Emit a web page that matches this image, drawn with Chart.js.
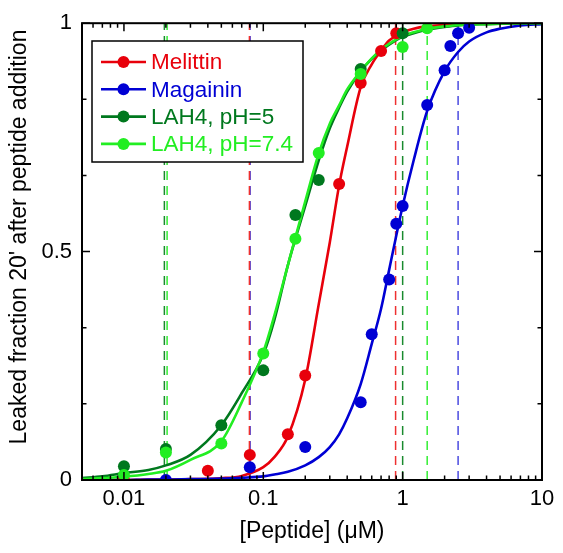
<!DOCTYPE html>
<html>
<head>
<meta charset="utf-8">
<script src="https://cdn.jsdelivr.net/npm/chart.js@4/dist/chart.umd.min.js"></script>
<style>
  html, body { margin: 0; padding: 0; background: #fff; }
</style>
</head>
<body>
<canvas id="myChart" width="563" height="553"></canvas>
<script>
// series
const seriesNames = ["Melittin", "Magainin", "LAH4, pH=5", "LAH4, pH=7.4"];
const seriesColors = ["#e8000b", "#0000d4", "#00781e", "#22ee22"];
const markerColors = seriesColors;
const dashColors = ["#ee3030", "#4a4ae0", "#1a8a2e", "#33ee33"];
const yTitle = "Leaked fraction 20' after peptide addition";
const xTitle = "[Peptide] (\u03BCM)";

// measured points
const melittinConc = [0.01, 0.04, 0.08, 0.15, 0.2, 0.35, 0.5, 0.7, 0.9];
const melittinLeak = [0.0, 0.02, 0.055, 0.10, 0.229, 0.648, 0.869, 0.939, 0.978];
const magaininConc = [0.02, 0.08, 0.2, 0.5, 0.6, 0.8, 0.9, 1.0, 1.5, 2.0, 2.2, 2.5, 3.0];
const magaininLeak = [0.0, 0.028, 0.072, 0.17, 0.319, 0.439, 0.561, 0.60, 0.821, 0.897, 0.95, 0.978, 0.99];
const lah5Conc = [0.01, 0.02, 0.05, 0.1, 0.17, 0.25, 0.5, 1.0];
const lah5Leak = [0.03, 0.068, 0.12, 0.24, 0.58, 0.657, 0.90, 0.978];
const lah74Conc = [0.01, 0.02, 0.05, 0.1, 0.17, 0.25, 0.5, 1.0, 1.5];
const lah74Leak = [0.011, 0.06, 0.08, 0.277, 0.528, 0.716, 0.889, 0.948, 0.989];

// fitted curves
const fitConc = [0.005, 0.007, 0.01, 0.015, 0.02, 0.03, 0.05, 0.07, 0.1, 0.12, 0.15, 0.2, 0.25, 0.3, 0.35,
                 0.4, 0.5, 0.6, 0.7, 0.8, 1.0, 1.2, 1.5, 2.0, 2.5, 3.0, 4.0, 5.0, 7.0, 10.0];
const melittinFit = [0, 0, 0, 0.001, 0.001, 0.002, 0.004, 0.009, 0.028, 0.05, 0.095, 0.22, 0.385, 0.52, 0.645,
                     0.73, 0.86, 0.91, 0.94, 0.962, 0.98, 0.988, 0.993, 0.996, 0.998, 0.999, 1, 1, 1, 1];
const magaininFit = [0, 0, 0, 0.001, 0.001, 0.002, 0.003, 0.005, 0.008, 0.012, 0.018, 0.032, 0.05, 0.072, 0.1,
                     0.135, 0.21, 0.298, 0.375, 0.46, 0.6, 0.7, 0.808, 0.895, 0.937, 0.96, 0.98, 0.988, 0.995, 0.998];
const lah5Fit = [0.004, 0.008, 0.015, 0.022, 0.032, 0.055, 0.12, 0.19, 0.275, 0.35, 0.47, 0.6, 0.7, 0.77, 0.815,
                 0.85, 0.895, 0.922, 0.94, 0.953, 0.97, 0.978, 0.986, 0.992, 0.995, 0.997, 0.998, 0.999, 1, 1];
const lah74Fit = [0.002, 0.004, 0.007, 0.013, 0.02, 0.044, 0.085, 0.17, 0.28, 0.36, 0.47, 0.61, 0.715, 0.78, 0.82,
                  0.855, 0.895, 0.923, 0.942, 0.955, 0.972, 0.98, 0.988, 0.993, 0.996, 0.997, 0.998, 0.999, 1, 1];

// dashed threshold lines (concentration), per series
const lowLines = [0.0795, 0.0805, 0.0195, 0.0204];
const highLines = [0.89, 2.5, 1.0, 1.5];

// axes
const xTickValues = [0.01, 0.1, 1, 10];
const xTickLabels = ["0.01", "0.1", "1", "10"];
const yTickValues = [0, 0.5, 1];
const yTickLabels = ["0", "0.5", "1"];
const yMinorTicks = [1 / 6, 2 / 6, 4 / 6, 5 / 6];

const FONT = "'Liberation Sans', Arial, sans-serif";
const pts = (xs, ys) => xs.map((v, i) => ({ x: v, y: ys[i] }));

const pointSets = [pts(melittinConc, melittinLeak), pts(magaininConc, magaininLeak),
                   pts(lah5Conc, lah5Leak), pts(lah74Conc, lah74Leak)];
const fitSets = [pts(fitConc, melittinFit), pts(fitConc, magaininFit),
                 pts(fitConc, lah5Fit), pts(fitConc, lah74Fit)];
const pointOrder = [3, 2, 1, 0];
const fitOrder = [13, 12, 11, 10];

const datasets = [];
seriesNames.forEach((name, i) => {
  datasets.push({
    label: name,
    data: pointSets[i],
    showLine: false,
    pointRadius: 6,
    pointHoverRadius: 6,
    pointBackgroundColor: markerColors[i],
    pointBorderWidth: 0,
    order: pointOrder[i]
  });
  datasets.push({
    label: name + " fit",
    data: fitSets[i],
    showLine: true,
    borderColor: seriesColors[i],
    borderWidth: 2.6,
    pointRadius: 0,
    cubicInterpolationMode: "monotone",
    order: fitOrder[i]
  });
  [lowLines[i], highLines[i]].forEach(v => {
    datasets.push({
      label: name + " limit",
      data: [{ x: v, y: 0 }, { x: v, y: 1 }],
      showLine: true,
      borderColor: dashColors[i],
      borderWidth: 1.5,
      borderDash: [9, 6],
      pointRadius: 0,
      order: 20 + i
    });
  });
});

// inward ticks and the frame round the plot
const frameTicks = {
  id: "frameTicks",
  afterDatasetsDraw(chart) {
    const { ctx, chartArea: a, scales: { x, y } } = chart;
    ctx.save();
    ctx.strokeStyle = "#000";
    ctx.lineWidth = 1.5;
    ctx.beginPath();
    const xTick = (v, len) => {
      const px = x.getPixelForValue(v);
      ctx.moveTo(px, a.bottom); ctx.lineTo(px, a.bottom - len);
      ctx.moveTo(px, a.top); ctx.lineTo(px, a.top + len);
    };
    const yTick = (v, len) => {
      const py = y.getPixelForValue(v);
      ctx.moveTo(a.left, py); ctx.lineTo(a.left + len, py);
      ctx.moveTo(a.right, py); ctx.lineTo(a.right - len, py);
    };
    for (let d = 0.001; d < 10; d *= 10) {
      for (let k = 2; k <= 9; k++) {
        const v = d * k;
        if (v > 0.005 && v < 10) xTick(v, 4.5);
      }
    }
    xTickValues.forEach(v => xTick(v, 8));
    yTickValues.forEach(v => yTick(v, 8));
    yMinorTicks.forEach(v => yTick(v, 4.5));
    ctx.stroke();
    ctx.lineWidth = 2;
    ctx.strokeRect(a.left, a.top, a.right - a.left, a.bottom - a.top);

    // y axis title, sits a little above the middle like the original
    ctx.fillStyle = "#000";
    ctx.font = "23px " + FONT;
    ctx.textAlign = "center";
    ctx.textBaseline = "middle";
    ctx.translate(20, 237);
    ctx.rotate(-Math.PI / 2);
    ctx.fillText(yTitle, 0, 0);
    ctx.restore();
  }
};

// boxed legend inside the plot
const boxLegend = {
  id: "boxLegend",
  afterDraw(chart) {
    const { ctx } = chart;
    const left = 92, top = 41, w = 211, h = 121;
    ctx.save();
    ctx.fillStyle = "#fff";
    ctx.fillRect(left, top, w, h);
    ctx.strokeStyle = "#000";
    ctx.lineWidth = 1.5;
    ctx.strokeRect(left, top, w, h);
    ctx.font = "22.5px " + FONT;
    ctx.textBaseline = "middle";
    seriesNames.forEach((name, i) => {
      const cy = top + 21 + i * 27.3;
      ctx.strokeStyle = seriesColors[i];
      ctx.lineWidth = 2.6;
      ctx.beginPath();
      ctx.moveTo(left + 9, cy); ctx.lineTo(left + 54, cy);
      ctx.stroke();
      ctx.fillStyle = markerColors[i];
      ctx.beginPath();
      ctx.arc(left + 31.5, cy, 6, 0, Math.PI * 2);
      ctx.fill();
      ctx.fillText(name, left + 59, cy + 1);
    });
    ctx.restore();
  }
};

Chart.defaults.font.family = FONT;
Chart.defaults.color = "#000";

new Chart(document.getElementById("myChart"), {
  type: "scatter",
  data: { datasets: datasets },
  options: {
    responsive: false,
    animation: false,
    layout: { padding: { top: 22, right: 21, left: 0, bottom: 0 } },
    plugins: { legend: { display: false }, tooltip: { enabled: false } },
    scales: {
      x: {
        type: "logarithmic",
        min: 0.005,
        max: 10,
        grid: { display: false, drawTicks: false },
        border: { display: false },
        afterBuildTicks: s => { s.ticks = xTickValues.map(v => ({ value: v })); },
        afterFit: s => { s.height = 73; },
        ticks: {
          autoSkip: false,
          maxRotation: 0,
          padding: 6,
          font: { size: 22 },
          callback: v => xTickLabels[xTickValues.indexOf(v)]
        },
        title: {
          display: true,
          text: xTitle,
          font: { size: 23 },
          padding: { top: 8, bottom: 8 }
        }
      },
      y: {
        min: 0,
        max: 1,
        grid: { display: false, drawTicks: false },
        border: { display: false },
        afterBuildTicks: s => { s.ticks = yTickValues.map(v => ({ value: v })); },
        afterFit: s => { s.width = 82; },
        ticks: {
          padding: 10,
          font: { size: 22 },
          callback: v => yTickLabels[yTickValues.indexOf(v)]
        },
        title: { display: false }
      }
    }
  },
  plugins: [frameTicks, boxLegend]
});
</script>
</body>
</html>
